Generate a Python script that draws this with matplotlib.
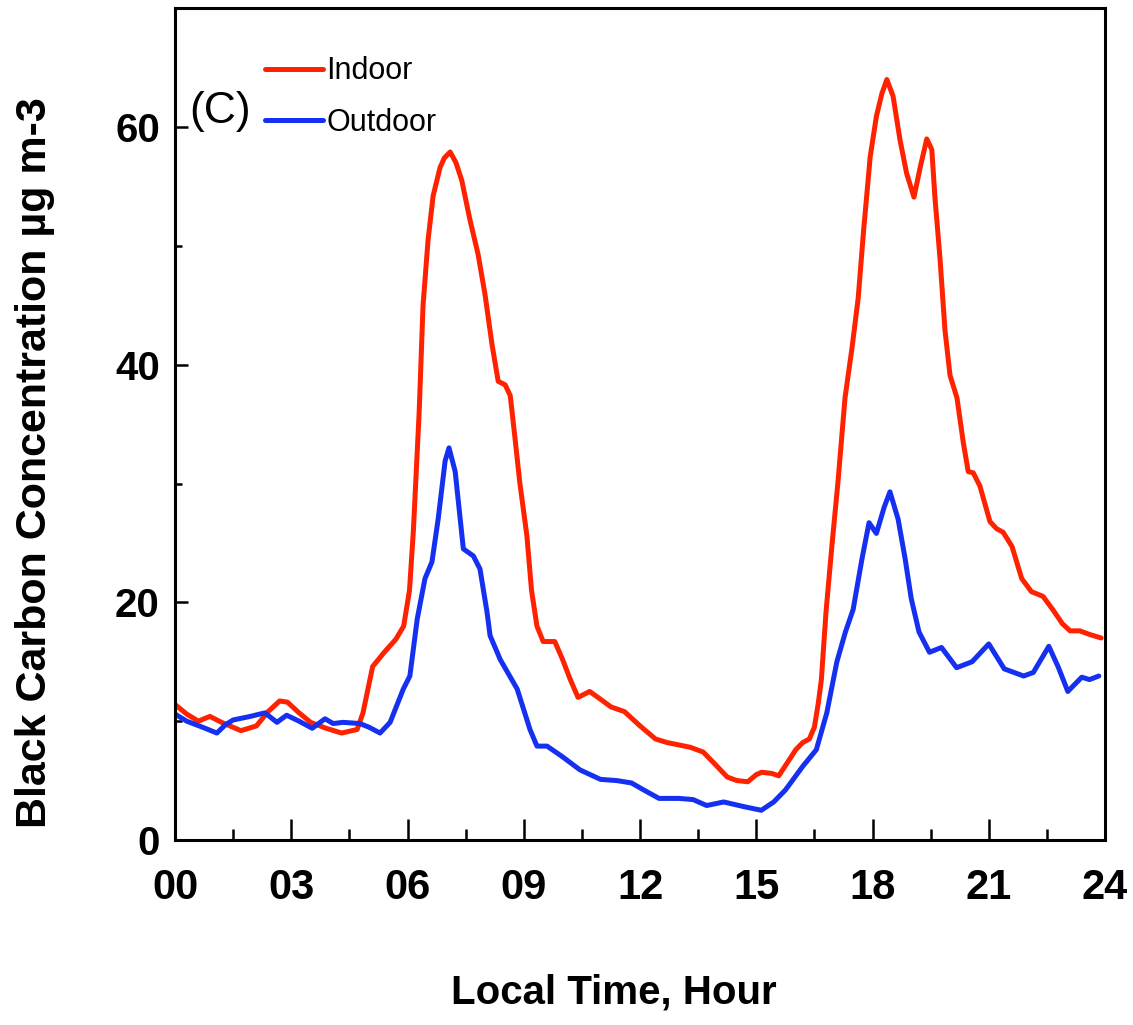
import matplotlib
matplotlib.use("Agg")
import matplotlib.pyplot as plt
from matplotlib.ticker import MultipleLocator

# Local time (hours) and black carbon concentration (ug m-3)
indoor_hour = [0.0, 0.3, 0.6, 0.9, 1.2, 1.7, 2.1, 2.4, 2.7, 2.9, 3.2, 3.5, 3.9, 4.3, 4.7,
               4.85, 5.1, 5.4, 5.7, 5.9, 6.05, 6.15, 6.3, 6.4, 6.53, 6.66, 6.84, 6.95,
               7.1, 7.25, 7.4, 7.61, 7.82, 8.0, 8.18, 8.34, 8.52, 8.65, 8.75, 8.9, 9.08,
               9.2, 9.34, 9.5, 9.8, 10.0, 10.2, 10.4, 10.7, 11.0, 11.25, 11.6, 12.0,
               12.4, 12.7, 13.0, 13.3, 13.63, 13.9, 14.25, 14.5, 14.78, 15.0, 15.14,
               15.4, 15.58, 15.8, 16.02, 16.2, 16.37, 16.5, 16.6, 16.68, 16.8, 16.95,
               17.11, 17.29, 17.47, 17.63, 17.77, 17.94, 18.1, 18.24, 18.37, 18.53,
               18.71, 18.88, 19.07, 19.23, 19.4, 19.53, 19.61, 19.74, 19.87, 20.0,
               20.18, 20.34, 20.47, 20.6, 20.77, 21.03, 21.2, 21.37, 21.6, 21.85,
               22.1, 22.4, 22.65, 22.9, 23.1, 23.35, 23.6, 23.9]
indoor_bc = [11.4, 10.6, 10.0, 10.4, 9.9, 9.2, 9.6, 10.8, 11.7, 11.6, 10.7, 9.9, 9.4, 9.0, 9.3,
             10.7, 14.6, 15.8, 16.9, 18.0, 21.0, 26.0, 36.0, 45.0, 50.5, 54.2, 56.6, 57.4,
             57.9, 57.0, 55.5, 52.2, 49.3, 45.9, 41.7, 38.6, 38.3, 37.4, 34.5, 30.0, 25.6,
             21.0, 18.0, 16.7, 16.7, 15.2, 13.5, 12.0, 12.5, 11.8, 11.2, 10.8, 9.6,
             8.5, 8.2, 8.0, 7.8, 7.4, 6.5, 5.3, 5.0, 4.9, 5.5, 5.7,
             5.6, 5.4, 6.5, 7.6, 8.2, 8.5, 9.5, 11.5, 13.5, 19.2, 24.7,
             30.2, 37.2, 41.4, 45.6, 51.3, 57.5, 60.9, 62.8, 64.0, 62.6,
             58.9, 56.1, 54.1, 56.6, 59.0, 58.1, 54.1, 49.0, 42.9, 39.1,
             37.2, 33.5, 31.0, 30.9, 29.8, 26.8, 26.2, 25.9, 24.7, 22.0,
             20.9, 20.5, 19.4, 18.2, 17.6, 17.6, 17.3, 17.0]

outdoor_hour = [0.0, 0.3, 0.7, 1.08, 1.3, 1.5, 1.94, 2.32, 2.63, 2.88, 3.2, 3.54, 3.87, 4.08,
                4.34, 4.77, 5.0, 5.29, 5.55, 5.89, 6.06, 6.25, 6.45, 6.63, 6.79, 6.97,
                7.07, 7.23, 7.44, 7.7, 7.87, 8.05, 8.13, 8.39, 8.83, 9.16, 9.34, 9.6,
                10.0, 10.45, 10.98, 11.4, 11.78, 12.1, 12.49, 13.0, 13.37, 13.72, 14.16,
                14.69, 15.13, 15.45, 15.75, 16.2, 16.55, 16.82, 17.08, 17.3, 17.5, 17.73,
                17.91, 18.1, 18.3, 18.45, 18.66, 18.84, 19.0, 19.2, 19.47, 19.78, 20.17,
                20.57, 21.0, 21.4, 21.9, 22.15, 22.55, 22.8, 23.04, 23.4, 23.6, 23.84]
outdoor_bc = [10.6, 10.0, 9.5, 9.0, 9.7, 10.1, 10.4, 10.7, 9.9, 10.5, 10.0, 9.4, 10.2, 9.8,
              9.9, 9.8, 9.5, 9.0, 9.9, 12.7, 13.8, 18.6, 22.0, 23.4, 27.0, 31.9,
              33.0, 31.0, 24.5, 23.9, 22.8, 19.2, 17.2, 15.2, 12.7, 9.3, 7.9, 7.9,
              7.0, 5.9, 5.1, 5.0, 4.8, 4.2, 3.5, 3.5, 3.4, 2.9, 3.2,
              2.8, 2.5, 3.2, 4.2, 6.2, 7.6, 10.7, 15.0, 17.5, 19.4, 23.7,
              26.7, 25.8, 28.0, 29.3, 27.0, 23.7, 20.3, 17.5, 15.8, 16.2, 14.5,
              15.0, 16.5, 14.4, 13.8, 14.1, 16.3, 14.5, 12.5, 13.7, 13.5, 13.8]

xtick_pos = [0, 3, 6, 9, 12, 15, 18, 21, 24]
xtick_labels = ["00", "03", "06", "09", "12", "15", "18", "21", "24"]
ytick_pos = [0, 20, 40, 60]

font = ["Liberation Sans", "DejaVu Sans"]

fig = plt.figure(figsize=(11.33, 10.25), dpi=100)
ax = fig.add_axes([0.1545, 0.1805, 0.8208, 0.8115])

ax.plot(indoor_hour, indoor_bc, color="#FF2200", lw=3.6, label="Indoor",
        solid_joinstyle="round", solid_capstyle="round")
ax.plot(outdoor_hour, outdoor_bc, color="#1530F0", lw=3.6, label="Outdoor",
        solid_joinstyle="round", solid_capstyle="round")

ax.set_xlim(0, 24)
ax.set_ylim(0, 70)
ax.set_xticks(xtick_pos)
ax.set_xticklabels(xtick_labels)
ax.set_yticks(ytick_pos)
ax.xaxis.set_minor_locator(MultipleLocator(1.5))
ax.yaxis.set_minor_locator(MultipleLocator(10))

for s in ax.spines.values():
    s.set_linewidth(2.2)

ax.tick_params(axis="x", which="major", direction="in", length=15, width=1.8, pad=20)
ax.tick_params(axis="x", which="minor", direction="in", length=8, width=1.8)
ax.tick_params(axis="y", which="major", direction="in", length=9, width=1.8, pad=11)
ax.tick_params(axis="y", which="minor", direction="in", length=5, width=1.8)

for lab in ax.get_xticklabels():
    lab.set_fontfamily(font)
    lab.set_fontweight("bold")
    lab.set_fontsize(30)
for lab in ax.get_yticklabels():
    lab.set_fontfamily(font)
    lab.set_fontweight("bold")
    lab.set_fontsize(29)

ax.set_xlabel("Local Time, Hour", family=font, fontweight="bold", fontsize=29, va="center")
ax.xaxis.set_label_coords(0.472, -0.183)
ax.set_ylabel("Black Carbon Concentration µg m-3", family=font, fontweight="bold",
              fontsize=31, va="center")
ax.yaxis.set_label_coords(-0.1505, 0.454)

ax.text(0.048, 0.876, "(C)", transform=ax.transAxes, family=font, fontsize=32,
        ha="center", va="center")

leg = ax.legend(loc="upper left", bbox_to_anchor=(0.097, 0.942), frameon=False,
                prop={"family": font, "size": 22}, handlelength=1.9, handletextpad=0.1,
                labelspacing=0.7, borderpad=0, borderaxespad=0)

fig.savefig("out.png", dpi=100)
